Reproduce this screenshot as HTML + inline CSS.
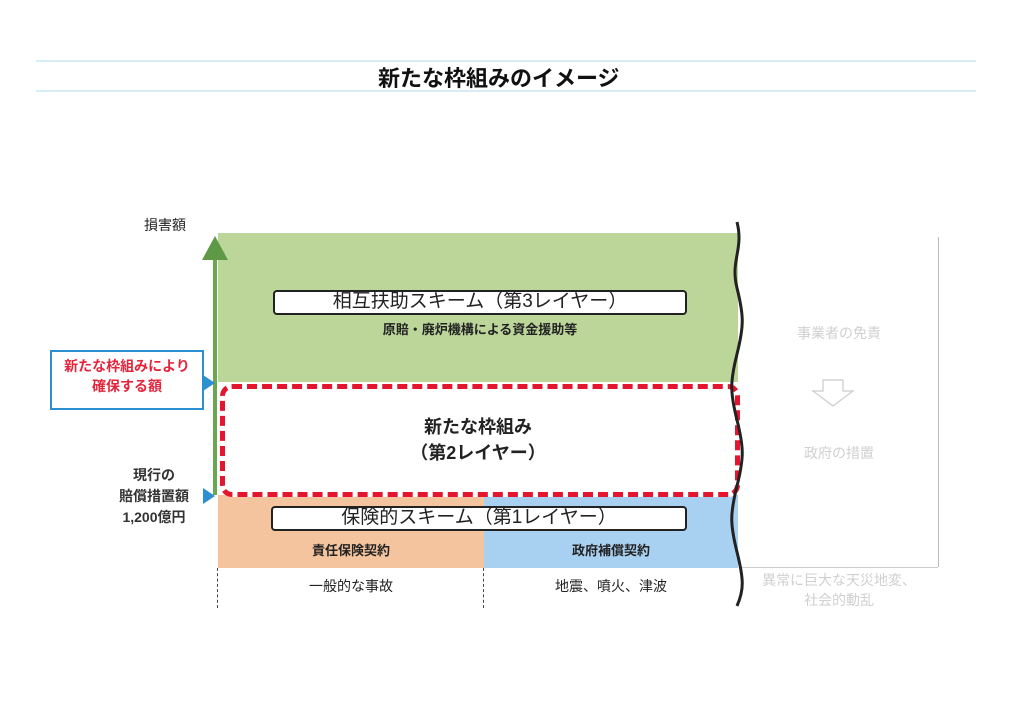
<!DOCTYPE html>
<html><head><meta charset="utf-8"><style>
body{margin:0;width:1024px;height:725px;background:#fff;position:relative;overflow:hidden;font-family:"Liberation Sans","Noto Sans CJK JP",sans-serif;color:#222}
.a{position:absolute}
.t{position:absolute;white-space:nowrap}
</style></head><body>
<div class="a" style="left:36px;top:60px;width:940px;height:2px;background:#d6eef3"></div>
<div class="a" style="left:36px;top:90px;width:940px;height:2px;background:#d6eef3"></div>
<div class="t" style="left:378px;top:61px;font-size:22px;font-weight:bold;color:#111">新たな枠組みのイメージ</div>

<div class="t" style="left:144px;top:215px;font-size:14px">損害額</div>
<div class="a" style="left:218px;top:233px;width:520px;height:149px;background:#bcd69a"></div>
<div class="a" style="left:218px;top:495px;width:266px;height:73px;background:#f4c49e"></div>
<div class="a" style="left:484px;top:495px;width:254px;height:73px;background:#a8d0f0"></div>
<div class="a" style="left:220px;top:384px;width:510px;height:103px;border:5px dashed #e4152e;border-radius:12px;background:#fff"></div>
<div class="a" style="left:213px;top:258px;width:4px;height:237px;background:#6aa84f"></div>
<div class="a" style="left:202px;top:236px;width:0;height:0;border-left:13px solid transparent;border-right:13px solid transparent;border-bottom:24px solid #5e9a46"></div>

<div class="a" style="left:273px;top:290px;width:410px;height:21px;border:2px solid #222;border-radius:4px;background:#fff"></div>
<div class="t" style="left:273px;top:290px;width:414px;text-align:center;font-size:19px;line-height:24px">相互扶助スキーム（第3レイヤー）</div>
<div class="t" style="left:273px;top:319px;width:414px;text-align:center;font-size:13px;font-weight:bold">原賠・廃炉機構による資金援助等</div>

<div class="t" style="left:218px;top:414px;width:520px;text-align:center;font-size:18px;font-weight:bold;line-height:26px">新たな枠組み<br>（第2レイヤー）</div>

<div class="a" style="left:271px;top:506px;width:412px;height:21px;border:2px solid #222;border-radius:4px;background:#fff"></div>
<div class="t" style="left:271px;top:506px;width:416px;text-align:center;font-size:19px;line-height:24px">保険的スキーム（第1レイヤー）</div>
<div class="t" style="left:218px;top:540px;width:266px;text-align:center;font-size:13px;font-weight:bold">責任保険契約</div>
<div class="t" style="left:484px;top:540px;width:254px;text-align:center;font-size:13px;font-weight:bold">政府補償契約</div>

<div class="a" style="left:217px;top:568px;height:40px;border-left:1px dashed #444"></div>
<div class="a" style="left:483px;top:568px;height:40px;border-left:1px dashed #444"></div>
<div class="t" style="left:218px;top:576px;width:266px;text-align:center;font-size:14px">一般的な事故</div>
<div class="t" style="left:484px;top:576px;width:254px;text-align:center;font-size:14px">地震、噴火、津波</div>

<div class="a" style="left:50px;top:350px;width:150px;height:56px;border:2px solid #2b8fd0;background:#fff"></div>
<div class="t" style="left:50px;top:356px;width:154px;text-align:center;font-size:14px;font-weight:bold;line-height:20px;color:#e3243b">新たな枠組みにより<br>確保する額</div>
<div class="a" style="left:203px;top:375px;border-top:8px solid transparent;border-bottom:8px solid transparent;border-left:12px solid #2b8fd0"></div>
<div class="a" style="left:203px;top:488px;border-top:8px solid transparent;border-bottom:8px solid transparent;border-left:12px solid #2b8fd0"></div>
<div class="t" style="left:106px;top:465px;width:96px;text-align:center;font-size:14px;font-weight:bold;line-height:21px;color:#333">現行の<br>賠償措置額<br>1,200億円</div>

<div class="a" style="left:938px;top:237px;width:1px;height:330px;background:#bbb"></div>
<div class="a" style="left:740px;top:567px;width:198px;height:1px;background:#ccc"></div>
<div class="t" style="left:740px;top:323px;width:198px;text-align:center;font-size:14px;color:#d0d0d0">事業者の免責</div>
<div class="t" style="left:740px;top:443px;width:198px;text-align:center;font-size:14px;color:#d0d0d0">政府の措置</div>
<svg class="a" style="left:810px;top:378px" width="46" height="30"><path d="M13 2H33V13H43L23 28L3 13H13Z" fill="none" stroke="#ccc" stroke-width="1.2"/></svg>
<div class="t" style="left:740px;top:570px;width:198px;text-align:center;font-size:14px;line-height:20px;color:#d0d0d0">異常に巨大な天災地変、<br>社会的動乱</div>

<svg class="a" style="left:725px;top:220px" width="30" height="390"><path d="M12 2 C19 30,5 40,12 68 S19 106,12 134 S5 172,12 200 S19 238,12 266 S5 304,12 332 S19 370,12 386" fill="none" stroke="#222" stroke-width="3"/></svg>
</body></html>
